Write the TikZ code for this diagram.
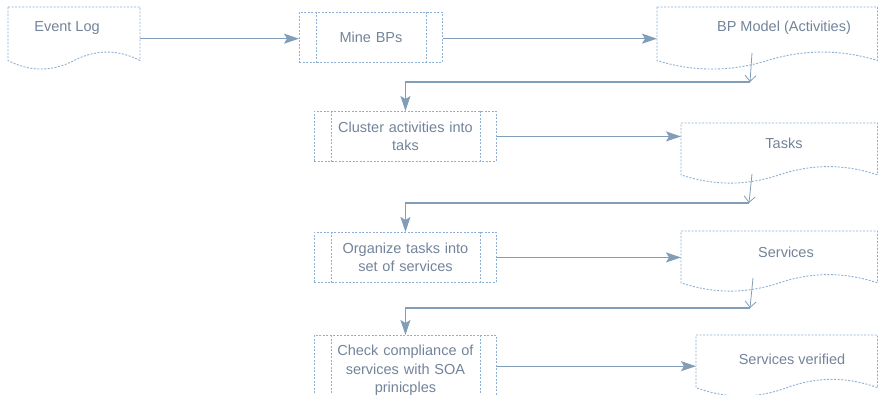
\documentclass[tikz,border=0pt]{standalone}
\usepackage{fontspec}
\setmainfont{Liberation Sans}
\usetikzlibrary{arrows.meta,calc}
\definecolor{edgeblue}{HTML}{819DB8}
\definecolor{dashblue}{HTML}{8DB0D4}
\definecolor{labelgray}{HTML}{73849A}
\def\docshape[#1](#2)(#3:#4){\draw[#1, shift={(#2)}, xscale=#3, yscale=#4] (0,0) -- (1,0) -- (1,0.85) .. controls (0.8333,0.67) and (0.6667,0.67) .. (0.5,0.85) .. controls (0.3333,1.03) and (0.1667,1.03) .. (0,0.85) -- cycle;}

\begin{document}
\begin{tikzpicture}[x=1pt, y=-1pt,
	lbl/.style={text=labelgray, font=\fontsize{14.5}{18.5}\selectfont},
	dashline/.style={draw=dashblue, line width=0.9pt, dash pattern=on 2pt off 1.5pt},
	docarea/.style={anchor=north west, inner sep=0pt},
	procbox/.style={dashline, lbl, anchor=north west, inner sep=0pt, minimum width=182pt, text width=146pt, align=center},
	flow/.style={draw=edgeblue, line width=1.3pt, -{Stealth[length=15pt,width=10pt,inset=3pt,fill=edgeblue]}},
	feed/.style={draw=edgeblue, line width=0.8pt, -{Straight Barb[length=6pt,width=11pt]}}
	]
	%%%%% START %%%%%
	
	\fill[white] (0,0) rectangle (878,395);
	\useasboundingbox (0,0) rectangle (878,395);
	\clip (0,0) rectangle (878,395);
	
	% documents
	\docshape[dashline](8,7)(132:63)
	\node[docarea, minimum width=132pt, minimum height=63pt] (evlog) at (8,7) {};
	\node[lbl] (evlog-t) at (67,28) {Event Log};
	
	\docshape[dashline](657,7)(220.5:63)
	\node[docarea, minimum width=220.5pt, minimum height=63pt] (bpm) at (657,7) {};
	\node[lbl] (bpm-t) at (784,28) {BP Model (Activities)};
	
	\docshape[dashline](681,123)(196.5:61)
	\node[docarea, minimum width=196.5pt, minimum height=61pt] (tasks) at (681,123) {};
	\node[lbl] (tasks-t) at (784,143) {Tasks};
	
	\docshape[dashline](681,231)(196.5:61)
	\node[docarea, minimum width=196.5pt, minimum height=61pt] (services) at (681,231) {};
	\node[lbl] (services-t) at (786,252) {Services};
	
	\docshape[dashline](696,335)(181.5:62)
	\node[docarea, minimum width=181.5pt, minimum height=62pt] (verified) at (696,335) {};
	\node[lbl] (verified-t) at (792,359) {Services verified};
	
	% processes
	\node[procbox, minimum width=143pt, minimum height=50pt, text width=110pt] (mine) at (299,12) {Mine BPs};
	\node[procbox, minimum height=50pt] (cluster) at (314,111) {Cluster activities into\\taks};
	\node[procbox, minimum height=50pt] (organize) at (314,232) {Organize tasks into\\set of services};
	\node[procbox, minimum height=70pt] (check) at (314,335) {Check compliance of\\services with SOA\\prinicples};
	
	% side bars of the processes
	\foreach \n in {mine,cluster,organize,check}{
		\draw[dashline] ([xshift=17pt]\n.north west) -- ([xshift=17pt]\n.south west);
		\draw[dashline] ([xshift=-16pt]\n.north east) -- ([xshift=-16pt]\n.south east);
	}
	
	% turning points below the documents
	\coordinate (bpm-out) at (752,53);
	\coordinate (bpm-turn) at (750,82);
	\coordinate (tasks-out) at (752,174);
	\coordinate (tasks-turn) at (749,203);
	\coordinate (services-out) at (753,278);
	\coordinate (services-turn) at (750,308);
	
	% connectors
	\draw[flow] (evlog.east) -- (evlog.east -| mine.west);
	\draw[flow] (mine.east |- bpm.west) -- (bpm.west);
	\draw[feed] (bpm-out) -- (bpm-turn);
	\draw[flow] (bpm-turn) -| (cluster.north);
	
	\draw[flow] (cluster.east) -- (cluster.east -| tasks.west);
	\draw[feed] (tasks-out) -- (tasks-turn);
	\draw[flow] (tasks-turn) -| (organize.north);
	
	\draw[flow] (organize.east) -- (organize.east -| services.west);
	\draw[feed] (services-out) -- (services-turn);
	\draw[flow] (services-turn) -| (check.north);
	
	\draw[flow] (verified.west -| check.east) -- (verified.west);
	
	%%%%% END %%%%%
\end{tikzpicture}
\end{document}
